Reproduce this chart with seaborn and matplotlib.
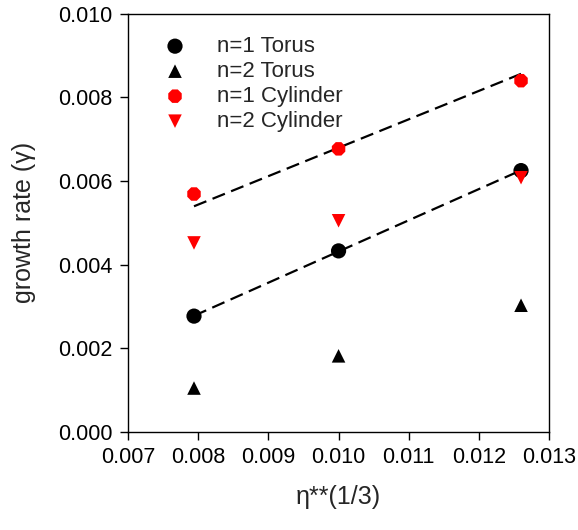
import numpy as np
import matplotlib
matplotlib.use("Agg")
import matplotlib.pyplot as plt
import seaborn as sns

# data
eta = [0.00794, 0.0100, 0.0126]
n1_torus = [0.00277, 0.00433, 0.00625]
n2_torus = [0.00105, 0.00182, 0.00303]
n1_cyl = [0.00569, 0.00677, 0.00840]
n2_cyl = [0.00452, 0.00505, 0.00608]

xticks = [0.007, 0.008, 0.009, 0.010, 0.011, 0.012, 0.013]
yticks = [0.000, 0.002, 0.004, 0.006, 0.008, 0.010]

sns.set_style("ticks")
plt.rcParams['font.family'] = ['Liberation Sans', 'DejaVu Sans']

fig = plt.figure(figsize=(5.78, 5.30), dpi=100)
ax = fig.add_axes([0.2215, 0.185, 0.7285, 0.789])

x = np.array(eta)
xe = np.array([x[0], x[-1]])
# torus: ordinary linear fit
slope, icpt = np.polyfit(x, n1_torus, 1)
torus_fit = slope * xe + icpt
# cylinder: fit through the origin
k = np.sum(x * np.array(n1_cyl)) / np.sum(x * x)
cyl_fit = k * xe

line_kw = dict(color="black", lw=1.6, dashes=(6, 3), legend=False)
sns.lineplot(x=xe, y=cyl_fit, ax=ax, **line_kw)
sns.lineplot(x=xe, y=torus_fit, ax=ax, **line_kw)

sns.scatterplot(x=eta, y=n1_torus, ax=ax, marker="o", color="black", s=120,
                edgecolor="none", label="n=1 Torus", zorder=3)
sns.scatterplot(x=eta, y=n2_torus, ax=ax, marker="^", color="black", s=95,
                edgecolor="none", label="n=2 Torus", zorder=3)
sns.scatterplot(x=eta, y=n1_cyl, ax=ax, marker="8", color="red", s=110,
                edgecolor="none", label="n=1 Cylinder", zorder=3)
sns.scatterplot(x=eta, y=n2_cyl, ax=ax, marker="v", color="red", s=95,
                edgecolor="none", label="n=2 Cylinder", zorder=3)

ax.set_xlim(0.007, 0.013)
ax.set_ylim(0.0, 0.010)
ax.set_xticks(xticks)
ax.set_yticks(yticks)
ax.set_xticklabels([f"{v:.3f}" for v in xticks])
ax.set_yticklabels([f"{v:.3f}" for v in yticks])
ax.tick_params(direction="out", length=6, width=1, labelsize=15.5, colors="black", pad=5)
for sp in ax.spines.values():
    sp.set_color("black")
    sp.set_linewidth(1)

ax.set_xlabel("η**(1/3)", fontsize=18, labelpad=12)
ax.set_ylabel("growth rate (γ)", fontsize=18, labelpad=16)

ax.legend(loc="upper left", frameon=False, fontsize=16, handletextpad=0.9,
          labelspacing=0.18, borderaxespad=0.6, bbox_to_anchor=(0.006, 1.0))

fig.savefig("out.png", dpi=100)
